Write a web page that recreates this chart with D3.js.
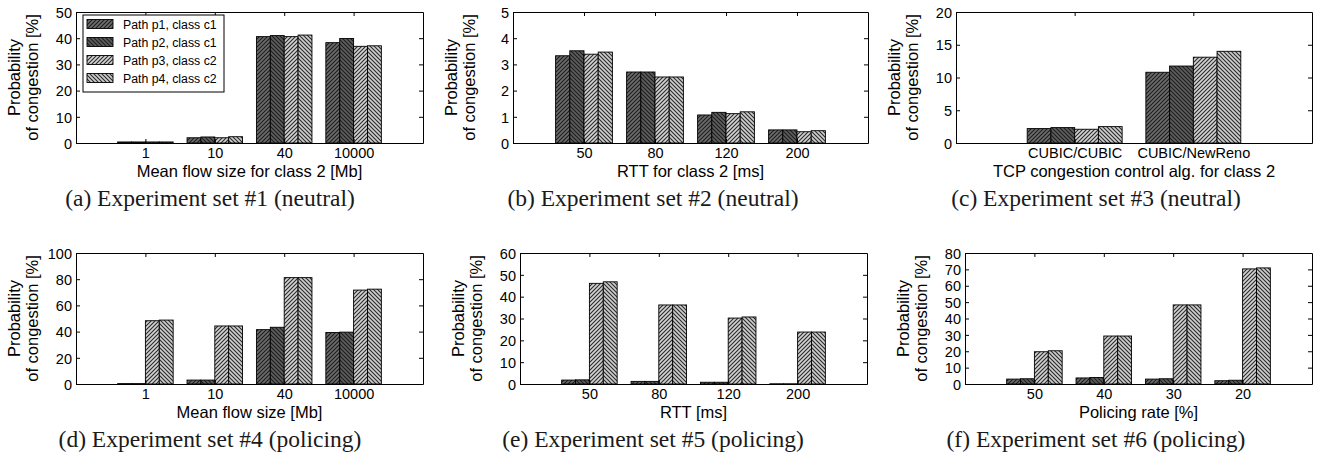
<!DOCTYPE html>
<html>
<head>
<meta charset="utf-8">
<script src="https://cdn.jsdelivr.net/npm/d3@7"></script>
<style>
  html, body { margin: 0; padding: 0; background: #fff; }
  svg { display: block; }
  .sans { font-family: "Liberation Sans", Arial, Helvetica, sans-serif; fill: #000; }
  .serif { font-family: "Liberation Serif", "Times New Roman", serif; fill: #1a1a1a; }
</style>
</head>
<body>
<svg id="chart" width="1320" height="464"></svg>
<script>
// ---------------- data ----------------
const seriesNames = ["Path p1, class c1", "Path p2, class c1", "Path p3, class c2", "Path p4, class c2"];
const yLabelLines = ["Probability", "of congestion [%]"];

// (a) Experiment set #1
const catsA = ["1", "10", "40", "10000"];
const p1A = [0.4, 2.0, 40.6, 38.3];
const p2A = [0.4, 2.3, 41.0, 39.9];
const p3A = [0.4, 2.0, 40.6, 36.9];
const p4A = [0.4, 2.4, 41.2, 37.1];
const ticksA = [0, 10, 20, 30, 40, 50];

// (b) Experiment set #2
const catsB = ["50", "80", "120", "200"];
const p1B = [3.33, 2.71, 1.07, 0.50];
const p2B = [3.52, 2.71, 1.17, 0.50];
const p3B = [3.39, 2.52, 1.12, 0.43];
const p4B = [3.47, 2.52, 1.19, 0.47];
const ticksB = [0, 1, 2, 3, 4, 5];

// (c) Experiment set #3
const catsC = ["CUBIC/CUBIC", "CUBIC/NewReno"];
const p1C = [2.2, 10.8];
const p2C = [2.35, 11.75];
const p3C = [2.1, 13.1];
const p4C = [2.5, 14.0];
const ticksC = [0, 5, 10, 15, 20];

// (d) Experiment set #4
const catsD = ["1", "10", "40", "10000"];
const p1D = [0.3, 3.0, 41.5, 39.3];
const p2D = [0.3, 3.0, 43.3, 39.6];
const p3D = [48.3, 44.3, 81.2, 71.7];
const p4D = [48.8, 44.3, 81.2, 72.4];
const ticksD = [0, 20, 40, 60, 80, 100];

// (e) Experiment set #5
const catsE = ["50", "80", "120", "200"];
const p1E = [1.8, 1.2, 0.8, 0.1];
const p2E = [1.9, 1.2, 0.8, 0.1];
const p3E = [46.1, 36.2, 30.2, 23.8];
const p4E = [46.8, 36.2, 30.7, 23.8];
const ticksE = [0, 10, 20, 30, 40, 50, 60];

// (f) Experiment set #6
const catsF = ["50", "40", "30", "20"];
const p1F = [3.0, 3.7, 3.0, 2.0];
const p2F = [3.2, 4.0, 3.2, 2.3];
const p3F = [19.7, 29.3, 48.3, 70.3];
const p4F = [20.3, 29.3, 48.3, 70.9];
const ticksF = [0, 10, 20, 30, 40, 50, 60, 70, 80];

const xLabels = [
  "Mean flow size for class 2 [Mb]",
  "RTT for class 2 [ms]",
  "TCP congestion control alg. for class 2",
  "Mean flow size [Mb]",
  "RTT [ms]",
  "Policing rate [%]"
];
const captions = [
  "(a) Experiment set #1 (neutral)",
  "(b) Experiment set #2 (neutral)",
  "(c) Experiment set #3 (neutral)",
  "(d) Experiment set #4 (policing)",
  "(e) Experiment set #5 (policing)",
  "(f) Experiment set #6 (policing)"
];

// ---------------- layout ----------------
const panels = [
  { cats: catsA, series: [p1A, p2A, p3A, p4A], ticks: ticksA, box: [76, 12, 423, 143], col: 0, legend: true },
  { cats: catsB, series: [p1B, p2B, p3B, p4B], ticks: ticksB, box: [513, 12, 868, 143], col: 1 },
  { cats: catsC, series: [p1C, p2C, p3C, p4C], ticks: ticksC, box: [956, 12, 1312, 143], col: 2 },
  { cats: catsD, series: [p1D, p2D, p3D, p4D], ticks: ticksD, box: [76, 253, 423, 384], col: 0 },
  { cats: catsE, series: [p1E, p2E, p3E, p4E], ticks: ticksE, box: [520, 253, 867, 384], col: 1 },
  { cats: catsF, series: [p1F, p2F, p3F, p4F], ticks: ticksF, box: [965, 253, 1312, 384], col: 2 }
];

const svg = d3.select("#chart");

// hatch patterns
const styles = [
  { id: "h1", bg: "#6c6c6c", dir: "/" , ink: "#1c1c1c" },
  { id: "h2", bg: "#5e5e5e", dir: "\\", ink: "#1c1c1c" },
  { id: "h3", bg: "#d2d2d2", dir: "/" , ink: "#2a2a2a" },
  { id: "h4", bg: "#cdcdcd", dir: "\\", ink: "#2a2a2a" }
];
const defs = svg.append("defs");
const T = 4;
styles.forEach(s => {
  const p = defs.append("pattern").attr("id", s.id)
    .attr("patternUnits", "userSpaceOnUse").attr("width", T).attr("height", T);
  p.append("rect").attr("width", T).attr("height", T).attr("fill", s.bg);
  const d = s.dir === "/"
    ? `M-1,1 L1,-1 M0,${T} L${T},0 M${T-1},${T+1} L${T+1},${T-1}`
    : `M-1,${T-1} L1,${T+1} M0,0 L${T},${T} M${T-1},-1 L${T+1},1`;
  p.append("path").attr("d", d).attr("stroke", s.ink).attr("stroke-width", 1.1).attr("fill", "none");
});

panels.forEach((P, pi) => {
  const [x0, y0, x1, y1] = P.box;
  const n = P.cats.length;
  const g = svg.append("g");
  const x = d3.scaleLinear().domain([0, n + 1]).range([x0, x1]);
  const ymax = P.ticks[P.ticks.length - 1];
  const y = d3.scaleLinear().domain([0, ymax]).range([y1, y0]);
  const step = x(1) - x(0);
  const bw = step * 0.8 / 4;

  // bars
  P.series.forEach((vals, si) => {
    g.append("g").selectAll("rect").data(vals).join("rect")
      .attr("x", (d, i) => x(i + 1) - step * 0.4 + si * bw)
      .attr("y", d => y(d))
      .attr("width", bw)
      .attr("height", d => y(0) - y(d))
      .attr("fill", `url(#${styles[si].id})`)
      .attr("stroke", "#000").attr("stroke-width", 0.9);
  });

  // axes (bottom, left, top, right) with inward ticks
  const xt = d3.range(1, n + 1);
  const bottom = d3.axisBottom(x).tickValues(xt).tickFormat(d => P.cats[d - 1]).tickSizeInner(-4).tickSizeOuter(0).tickPadding(6);
  const top = d3.axisTop(x).tickValues(xt).tickFormat("").tickSizeInner(-4).tickSizeOuter(0);
  const left = d3.axisLeft(y).tickValues(P.ticks).tickFormat(d3.format("d")).tickSizeInner(-4).tickSizeOuter(0).tickPadding(4);
  const right = d3.axisRight(y).tickValues(P.ticks).tickFormat("").tickSizeInner(-4).tickSizeOuter(0);

  const gb = g.append("g").attr("transform", `translate(0,${y1})`).call(bottom);
  const gt = g.append("g").attr("transform", `translate(0,${y0})`).call(top);
  const gl = g.append("g").attr("transform", `translate(${x0},0)`).call(left);
  const gr = g.append("g").attr("transform", `translate(${x1},0)`).call(right);
  [gb, gt, gl, gr].forEach(a => {
    a.select(".domain").attr("stroke", "#000").attr("stroke-width", 1);
    a.selectAll(".tick line").attr("stroke", "#000").attr("stroke-width", 1);
    a.selectAll("text").attr("class", "sans").attr("font-size", 14.5).attr("font-family", null).attr("fill", "#000");
  });
  gb.selectAll(".tick text").attr("dy", "0.71em").attr("y", 5);
  gl.selectAll(".tick text").attr("dy", "0.36em");

  // x label
  g.append("text").attr("class", "sans").attr("font-size", 16.5)
    .attr("x", (x0 + x1) / 2).attr("y", y1 + 34).attr("text-anchor", "middle").text(xLabels[pi]);

  // y label (two lines)
  const cy = (y0 + y1) / 2;
  yLabelLines.forEach((t, li) => {
    const lx = x0 - 56 + li * 18;
    g.append("text").attr("class", "sans").attr("font-size", 16.5)
      .attr("transform", `translate(${lx},${cy}) rotate(-90)`)
      .attr("text-anchor", "middle").text(t);
  });

  // caption
  g.append("text").attr("class", "serif").attr("font-size", 23.5)
    .attr("x", 210 + P.col * 443).attr("y", y1 + 63).attr("text-anchor", "middle").text(captions[pi]);

  // legend
  if (P.legend) {
    const lg = g.append("g");
    lg.append("rect").attr("x", 83).attr("y", 15).attr("width", 141).attr("height", 77)
      .attr("fill", "#fff").attr("stroke", "#000").attr("stroke-width", 1);
    seriesNames.forEach((name, si) => {
      const by = 29 + si * 18;
      lg.append("rect").attr("x", 87).attr("y", by - 9.5).attr("width", 26).attr("height", 9)
        .attr("fill", `url(#${styles[si].id})`).attr("stroke", "#000").attr("stroke-width", 0.9);
      lg.append("text").attr("class", "sans").attr("font-size", 12.3)
        .attr("x", 123).attr("y", by).text(name);
    });
  }
});
</script>
</body>
</html>
